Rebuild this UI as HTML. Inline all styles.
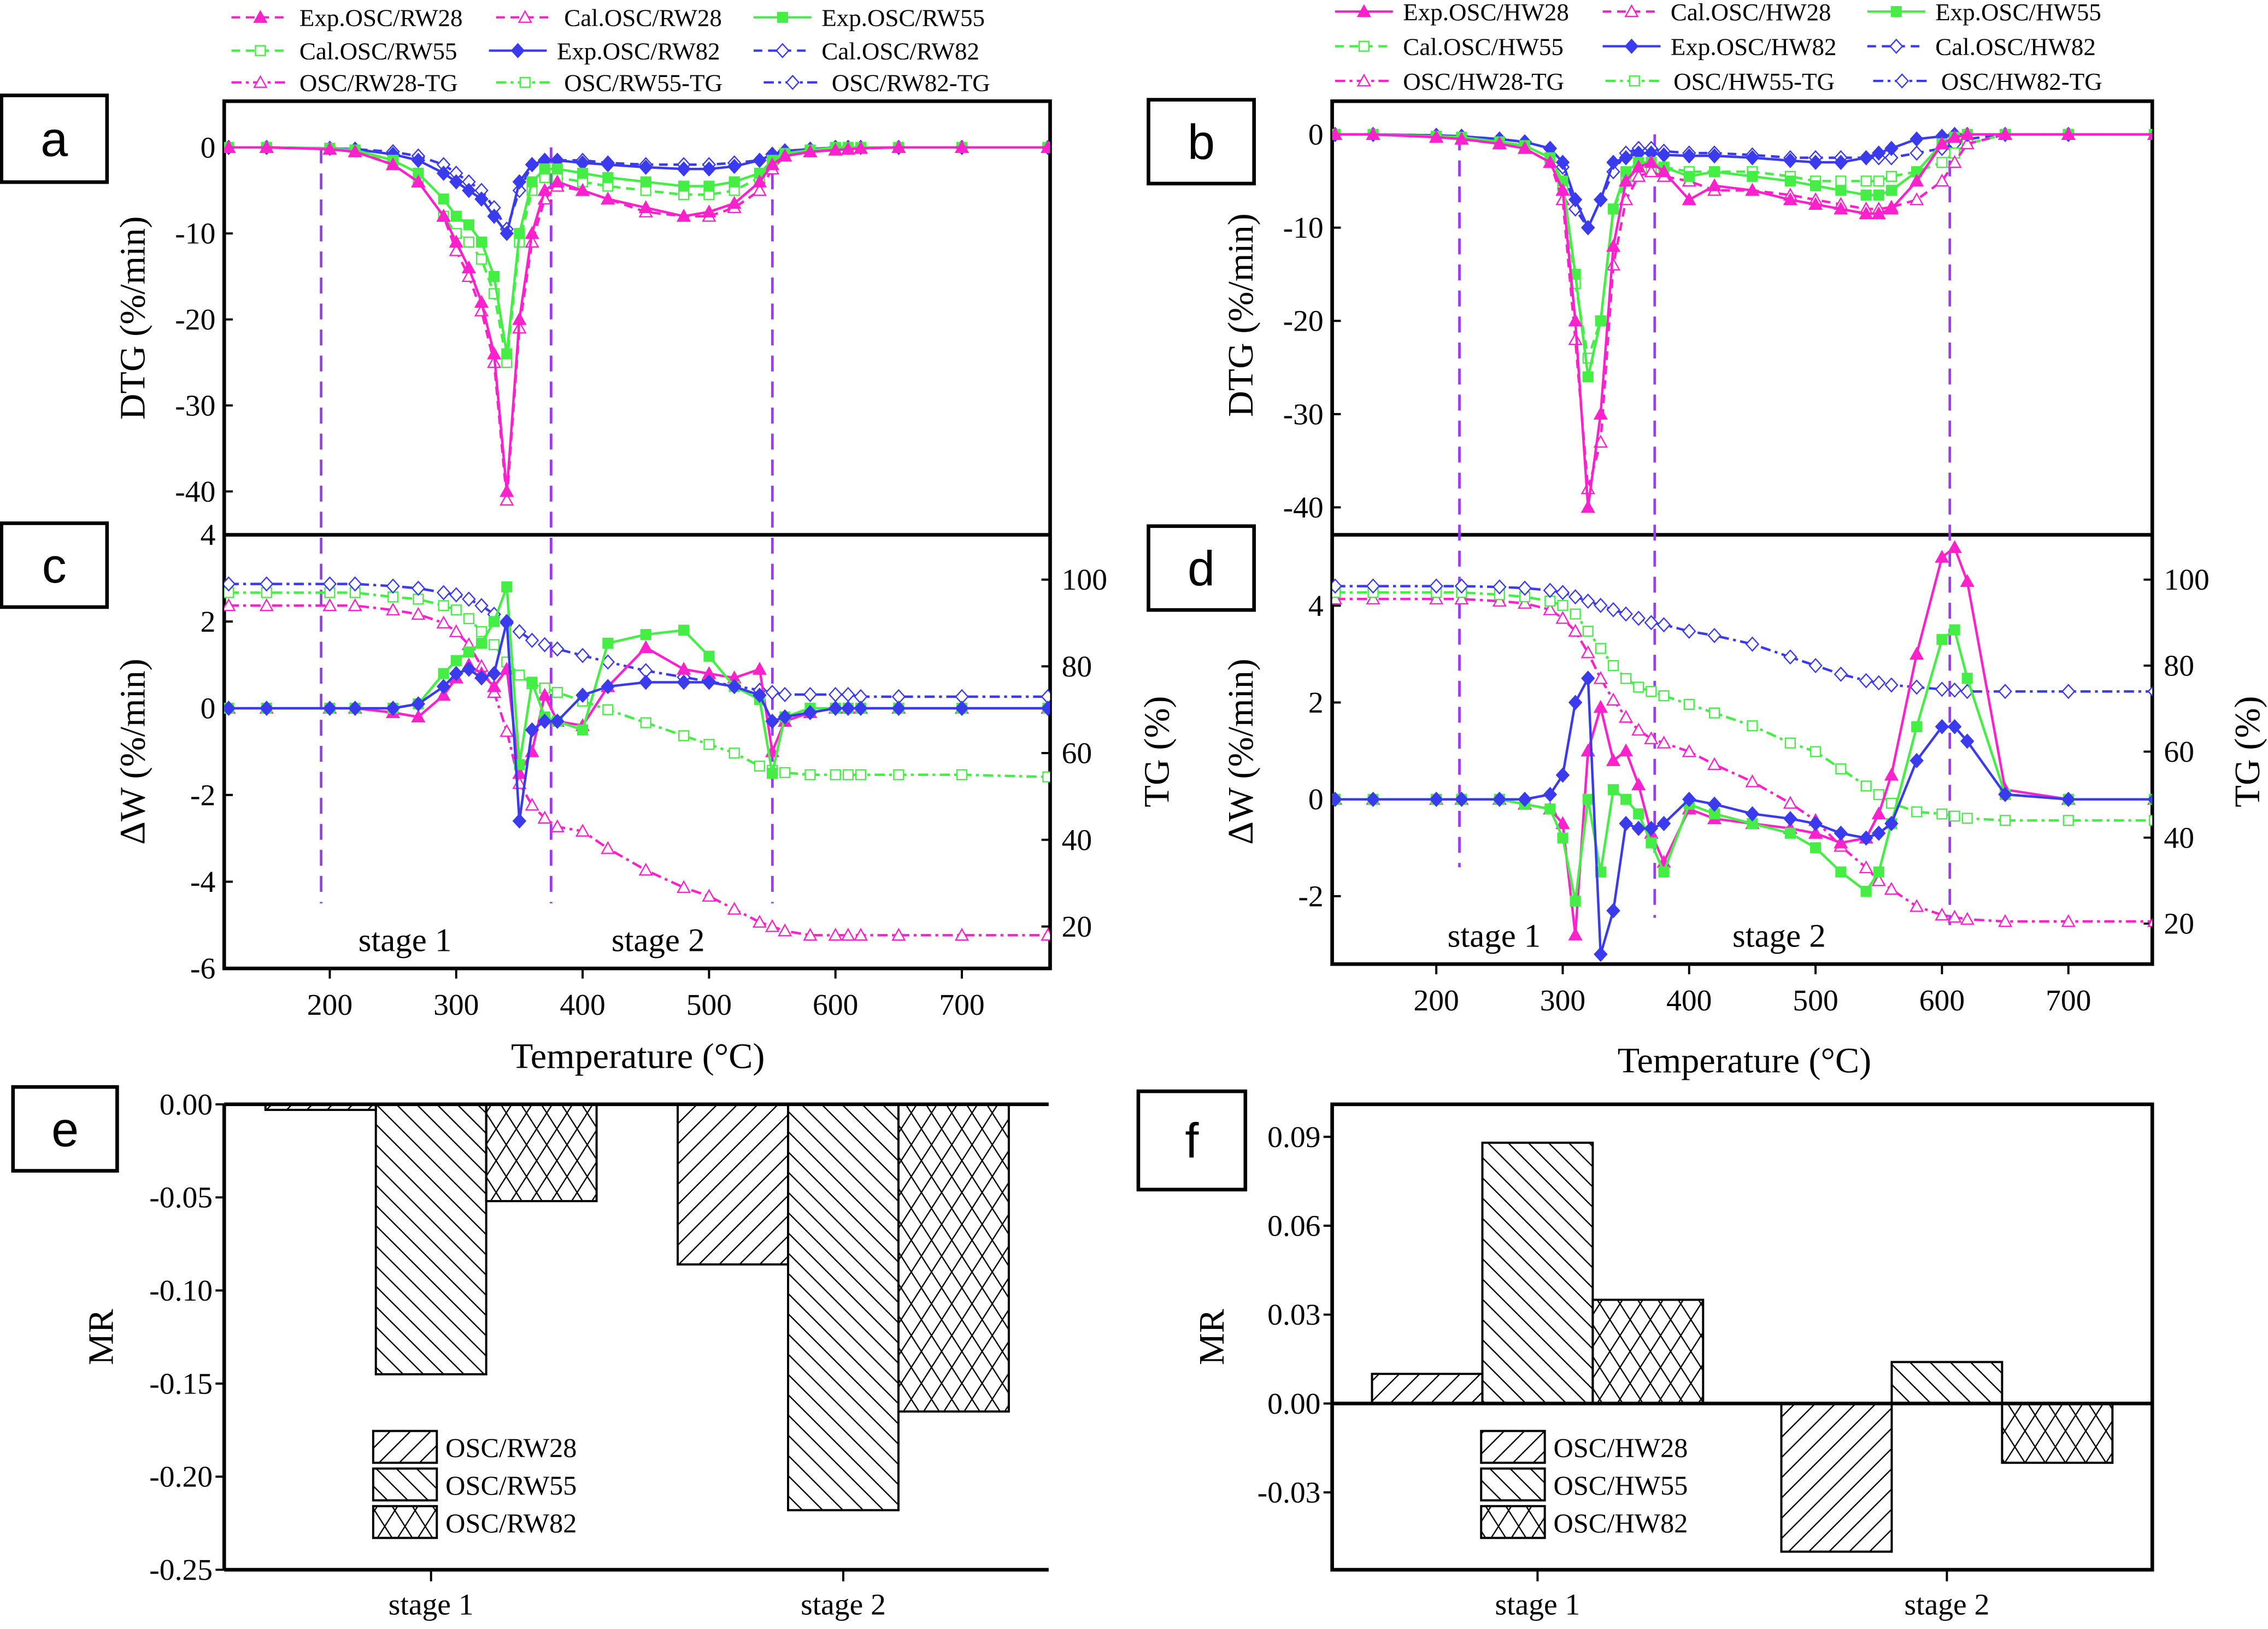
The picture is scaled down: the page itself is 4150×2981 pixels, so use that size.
<!DOCTYPE html>
<html><head><meta charset="utf-8"><style>
html,body{margin:0;padding:0;background:#fff;}
svg{display:block;font-family:"Liberation Serif",serif;}
</style></head><body>
<svg id="fig" xmlns="http://www.w3.org/2000/svg" width="4150" height="2981" viewBox="0 0 1568 1127" preserveAspectRatio="none">
<defs>
<pattern id="hFwd" patternUnits="userSpaceOnUse" width="14" height="14"><path d="M-2,16 L16,-2 M-2,2 L2,-2 M12,16 L16,12" stroke="#000" stroke-width="0.9"/></pattern>
<pattern id="hBack" patternUnits="userSpaceOnUse" width="14" height="14"><path d="M-2,-2 L16,16 M-2,12 L2,16 M12,-2 L16,2" stroke="#000" stroke-width="0.9"/></pattern>
<pattern id="hCross" patternUnits="userSpaceOnUse" width="14" height="22"><path d="M0,0 L14,22 M14,0 L0,22" stroke="#000" stroke-width="0.9"/></pattern>
<clipPath id="clipAC"><rect x="155" y="70" width="571" height="600"/></clipPath>
<clipPath id="clipBD"><rect x="921" y="70" width="567" height="597"/></clipPath>
</defs>
</svg>
<script>
// ---------- data ----------
const temps = [120,150,200,220,250,270,290,300,310,320,330,340,350,360,370,380,400,420,450,480,500,520,540,550,560,580,600,610,620,650,700,768];
// panel a: DTG (%/min)
const dtgExpRW28 = [0,0,-0.2,-0.5,-2,-4,-8,-11,-14,-18,-24,-40,-20,-10,-5,-4,-5,-6,-7,-8,-7.5,-6.5,-4,-2,-1,-0.5,-0.3,-0.2,-0.1,0,0,0];
const dtgCalRW28 = [0,0,-0.2,-0.5,-2,-4,-8,-12,-15,-19,-25,-41,-21,-11,-6,-4.5,-5,-6,-7.5,-8,-8,-7,-5,-2.5,-1,-0.5,-0.3,-0.2,-0.1,0,0,0];
const dtgExpRW55 = [0,0,-0.1,-0.3,-1.5,-3,-6,-8,-9,-11,-15,-24,-10,-4,-2.5,-2.5,-3,-3.5,-4,-4.5,-4.5,-4,-3,-1.5,-0.7,-0.3,0,0,0,0,0,0];
const dtgCalRW55 = [0,0,-0.1,-0.3,-2,-4,-8,-10,-11,-13,-17,-25,-11,-5,-3.5,-3.5,-4,-4.5,-5,-5.5,-5.5,-5,-3.5,-2,-0.8,-0.3,0,0,0,0,0,0];
const dtgExpRW82 = [0,0,-0.1,-0.2,-0.8,-1.5,-3,-4,-5,-6,-8,-10,-4,-2,-1.5,-1.5,-1.8,-2,-2.3,-2.5,-2.5,-2.2,-1.5,-0.8,-0.4,-0.2,0,0,0,0,0,0];
const dtgCalRW82 = [0,0,-0.1,-0.2,-0.5,-1,-2,-3,-4,-5,-7,-9.5,-5,-2,-1.5,-1.5,-1.5,-1.8,-2,-2,-2,-1.8,-1.5,-0.8,-0.4,-0.2,0,0,0,0,0,0];
// panel c: dW and TG
const dwRW28 = [0,0,0,0,-0.1,-0.2,0.3,0.7,1.0,0.8,0.5,0.9,-1.5,-1.0,0.3,-0.3,-0.4,0.5,1.4,0.9,0.8,0.7,0.9,-1.0,-0.3,-0.1,0,0,0,0,0,0];
const dwRW55 = [0,0,0,0,0,0.1,0.8,1.1,1.3,1.5,2.0,2.8,-1.3,0.6,-0.2,-0.3,-0.5,1.5,1.7,1.8,1.2,0.5,0.2,-1.5,-0.2,0,0,0,0,0,0,0];
const dwRW82 = [0,0,0,0,0,0.1,0.5,0.8,0.9,0.7,0.8,2.0,-2.6,-0.5,-0.3,-0.3,0.3,0.5,0.6,0.6,0.6,0.5,0.3,-0.3,-0.2,-0.1,0,0,0,0,0,0];
const tgRW28 = [94,94,94,94,93,92,90,88,85,80,74,65,53,48,45,43,42,38,33,29,27,24,21,20,19,18,18,18,18,18,18,18];
const tgRW55 = [97,97,97,97,96,95.5,94,93,91,88,85,81,78,76,75,74,72,70,67,64,62,60,57,56,55.5,55,55,55,55,55,55,54.5];
const tgRW82 = [99,99,99,99,98.5,98,97,96.5,95.5,94,92,90,88,86,85,84,82.5,81,79,77.5,76.5,75.5,74.5,74,73.5,73.5,73.5,73.5,73,73,73,73];
// panel b: DTG
const dtgExpHW28 = [0,0,-0.3,-0.5,-1,-1.5,-3,-6,-20,-40,-30,-12,-5,-3.5,-3,-4,-7,-5.5,-6,-7,-7.5,-8,-8.5,-8.5,-8,-5,-1,-0.3,0,0,0,0];
const dtgCalHW28 = [0,0,-0.3,-0.5,-1,-1.5,-3,-7,-22,-38,-33,-14,-7,-4.5,-4,-4.5,-5,-6,-6,-6.5,-7,-7.5,-8,-8,-7.8,-7,-5,-3,-1,0,0,0];
const dtgExpHW55 = [0,0,-0.2,-0.3,-0.8,-1.2,-2.5,-5,-15,-26,-20,-8,-4,-3,-3,-3.5,-4.5,-4,-4.5,-5,-5.5,-6,-6.5,-6.5,-6,-4,-1,-0.3,0,0,0,0];
const dtgCalHW55 = [0,0,-0.2,-0.3,-0.8,-1.2,-2.5,-5.5,-16,-24,-20,-8,-5,-3.5,-3.5,-3.5,-4,-4,-4,-4.5,-5,-5,-5,-5,-4.5,-4,-3,-2,-1,0,0,0];
const dtgExpHW82 = [0,0,-0.1,-0.2,-0.5,-0.8,-1.5,-3,-7,-10,-7,-3,-2.5,-2,-2,-2.2,-2.3,-2.3,-2.5,-2.8,-3,-3,-2.5,-2,-1.5,-0.5,-0.2,0,0,0,0,0];
const dtgCalHW82 = [0,0,-0.1,-0.2,-0.5,-0.8,-1.5,-3.5,-8,-10,-7,-4,-2,-1.5,-1.5,-1.8,-2,-2,-2.2,-2.5,-2.5,-2.5,-2.5,-2.5,-2.5,-2,-1.5,-1,-0.5,0,0,0];
// panel d: dW and TG
const dwHW28 = [0,0,0,0,0,-0.1,-0.2,-0.5,-2.8,1.0,1.9,0.8,1.0,0.3,-0.7,-1.3,-0.2,-0.4,-0.5,-0.6,-0.7,-0.9,-0.8,-0.3,0.5,3.0,5.0,5.2,4.5,0.2,0,0];
const dwHW55 = [0,0,0,0,0,-0.1,-0.2,-0.8,-2.1,0,-1.5,0.2,0,-0.3,-0.9,-1.5,-0.1,-0.3,-0.5,-0.7,-1.0,-1.5,-1.9,-1.5,-0.5,1.5,3.3,3.5,2.5,0.1,0,0];
const dwHW82 = [0,0,0,0,0,0,0.1,0.5,2.0,2.5,-3.2,-2.3,-0.5,-0.6,-0.6,-0.5,0,-0.1,-0.3,-0.4,-0.5,-0.7,-0.8,-0.7,-0.5,0.8,1.5,1.5,1.2,0.1,0,0];
const tgHW28 = [95.5,95.5,95.5,95.5,95,94.5,93,91,88,83,77,72,68,65,63,62,60,57,53,48,44,38,33,30,28,24,22,21.5,21,20.5,20.5,20.5];
const tgHW55 = [97,97,97,97,96.5,96,95,94,92,88,84,80,77,75,74,73,71,69,66,62,60,56,52,50,48,46,45.5,45,44.5,44,44,44];
const tgHW82 = [98.5,98.5,98.5,98.5,98.3,98,97.5,97,96,95,94,93,92,91,90,89.5,88,87,85,82,80,78,76.5,76,75.5,75,74.5,74.3,74,74,74,74];
// bar panels
const stages = ["stage 1","stage 2"];
const mrRW28 = [-0.003,-0.086];
const mrRW55 = [-0.145,-0.218];
const mrRW82 = [-0.052,-0.165];
const mrHW28 = [0.010,-0.050];
const mrHW55 = [0.088,0.014];
const mrHW82 = [0.035,-0.020];
const xTicks = [200,300,400,500,600,700];

// ---------- helpers ----------
const NS="http://www.w3.org/2000/svg";
const svg=document.getElementById('fig');
function mk(tag,attrs,parent){const e=document.createElementNS(NS,tag);for(const k in attrs)e.setAttribute(k,attrs[k]);(parent||svg).appendChild(e);return e;}
function txt(s,x,y,size,opts,parent){const o=Object.assign({x:x,y:y,'font-size':size,fill:'#000'},opts||{});const e=mk('text',o,parent);e.textContent=s;return e;}
const MAG="#ff22cc",GRN="#44ee44",BLU="#3a3aee",PUR="#9a3cf0";
const xA=t=>228+(t-200)*0.874, xB=t=>993+(t-200)*0.874;
const yA=v=>102-v*5.95, yC=v=>490-v*30, yCt=p=>401+(100-p)*3;
const yB=v=>93-v*6.45, yD=v=>553-v*33.5, yDt=p=>401+(100-p)*2.975;

function marker(g,type,x,y,color,filled){
  const f=filled?color:'#fff', s=4.2; let e;
  if(type==='tri') e=mk('path',{d:`M${x},${y-s} L${x+s},${y+s*0.8} L${x-s},${y+s*0.8}Z`,fill:f,stroke:color,'stroke-width':0.9},g);
  else if(type==='sq') e=mk('rect',{x:x-s*0.8,y:y-s*0.8,width:s*1.6,height:s*1.6,fill:f,stroke:color,'stroke-width':0.9},g);
  else e=mk('path',{d:`M${x},${y-s*1.1} L${x+s},${y} L${x},${y+s*1.1} L${x-s},${y}Z`,fill:f,stroke:color,'stroke-width':0.9},g);
  
  
}
function series(name,vals,xf,yf,color,dash,mtype,filled,clip){
  const g=mk('g',{'clip-path':`url(#${clip})`});
  
  
  let d='';
  vals.forEach((v,i)=>{d+=(i?'L':'M')+xf(temps[i]).toFixed(1)+','+yf(v).toFixed(1);});
  const p=mk('path',{d:d,fill:'none',stroke:color,'stroke-width':1.7,'stroke-dasharray':dash,'stroke-linejoin':'round'},g);
  
  
  vals.forEach((v,i)=>marker(g,mtype,xf(temps[i]),yf(v),color,filled));
}
const DASH='6,4', DOT='7,3,2,3';

// ---------- chart frames ----------
function frame(name,x,y,w,h){const r=mk('rect',{x:x,y:y,width:w,height:h,fill:'none',stroke:'#000','stroke-width':2.5});}
frame('panel-ac-frame',155,70,571,600);
mk('line',{x1:155,y1:370,x2:726,y2:370,stroke:'#000','stroke-width':2.5});
frame('panel-bd-frame',921,70,567,597);
mk('line',{x1:921,y1:370,x2:1488,y2:370,stroke:'#000','stroke-width':2.5});

function yTicks(vals,yf,xAxis,side,fmt,nameBase){
  vals.forEach(v=>{const y=yf(v);
    mk('line',{x1:xAxis,y1:y,x2:xAxis+(side<0?6:-6),y2:y,stroke:'#000','stroke-width':1.5});
    const t=txt(fmt(v),side<0?xAxis-6:xAxis+8,y+7,21,{'text-anchor':side<0?'end':'start'});
    
    
  });
}
const fmt0=v=>String(v);
yTicks([0,-10,-20,-30,-40],yA,155,-1,fmt0,'a-y');
yTicks([4,2,0,-2,-4,-6],yC,155,-1,fmt0,'c-y');
yTicks([100,80,60,40,20],yCt,726,1,fmt0,'c-tg');
yTicks([0,-10,-20,-30,-40],yB,921,-1,fmt0,'b-y');
yTicks([4,2,0,-2],yD,921,-1,fmt0,'d-y');
yTicks([100,80,60,40,20],yDt,1488,1,fmt0,'d-tg');
xTicks.forEach(t=>{
  [[xA,670,'c'],[xB,667,'d']].forEach(([xf,yb,p])=>{const x=xf(t);
    mk('line',{x1:x,y1:yb,x2:x,y2:yb+7,stroke:'#000','stroke-width':1.5});
    const e=txt(String(t),x,yb+32,21,{'text-anchor':'middle'});
    
    
  });
});
function rlabel(s,x,y,name){const e=txt(s,x,y,25,{'text-anchor':'middle',transform:`rotate(-90 ${x} ${y})`});}
rlabel('DTG (%/min)',100,220,'a-y-axis-title');
rlabel('ΔW (%/min)',100,520,'c-y-axis-title');
rlabel('TG (%)',808,520,'c-right-axis-title');
rlabel('DTG (%/min)',866,218,'b-y-axis-title');
rlabel('ΔW (%/min)',866,520,'d-y-axis-title');
rlabel('TG (%)',1562,520,'d-right-axis-title');
let e;
e=txt('Temperature (°C)',441,739,25,{'text-anchor':'middle'});
e=txt('Temperature (°C)',1206,742,25,{'text-anchor':'middle'});
[['stage 1',280,658,'c'],['stage 2',455,658,'c'],['stage 1',1033,655,'d'],['stage 2',1230,655,'d']].forEach(([s,x,y,p])=>{
  e=txt(s,x,y,23,{'text-anchor':'middle'});});

// stage divider lines
[[222,102,625],[381,102,625],[534,102,625],[1009,93,600],[1144,93,635],[1348,93,640]].forEach(([x,y1,y2])=>{
  e=mk('line',{x1:x,y1:y1,x2:x,y2:y2,stroke:PUR,'stroke-width':1.8,'stroke-dasharray':'11,7'});
  });

// ---------- series ----------
series('c-tg-rw28',tgRW28,xA,yCt,MAG,DOT,'tri',false,'clipAC');
series('c-tg-rw55',tgRW55,xA,yCt,GRN,DOT,'sq',false,'clipAC');
series('c-tg-rw82',tgRW82,xA,yCt,BLU,DOT,'dia',false,'clipAC');
series('a-cal-rw82',dtgCalRW82,xA,yA,BLU,DASH,'dia',false,'clipAC');
series('a-cal-rw55',dtgCalRW55,xA,yA,GRN,DASH,'sq',false,'clipAC');
series('a-cal-rw28',dtgCalRW28,xA,yA,MAG,DASH,'tri',false,'clipAC');
series('a-exp-rw82',dtgExpRW82,xA,yA,BLU,'','dia',true,'clipAC');
series('a-exp-rw55',dtgExpRW55,xA,yA,GRN,'','sq',true,'clipAC');
series('a-exp-rw28',dtgExpRW28,xA,yA,MAG,'','tri',true,'clipAC');
series('c-dw-rw28',dwRW28,xA,yC,MAG,'','tri',true,'clipAC');
series('c-dw-rw55',dwRW55,xA,yC,GRN,'','sq',true,'clipAC');
series('c-dw-rw82',dwRW82,xA,yC,BLU,'','dia',true,'clipAC');

series('d-tg-hw28',tgHW28,xB,yDt,MAG,DOT,'tri',false,'clipBD');
series('d-tg-hw55',tgHW55,xB,yDt,GRN,DOT,'sq',false,'clipBD');
series('d-tg-hw82',tgHW82,xB,yDt,BLU,DOT,'dia',false,'clipBD');
series('b-cal-hw82',dtgCalHW82,xB,yB,BLU,DASH,'dia',false,'clipBD');
series('b-cal-hw55',dtgCalHW55,xB,yB,GRN,DASH,'sq',false,'clipBD');
series('b-cal-hw28',dtgCalHW28,xB,yB,MAG,DASH,'tri',false,'clipBD');
series('b-exp-hw82',dtgExpHW82,xB,yB,BLU,'','dia',true,'clipBD');
series('b-exp-hw55',dtgExpHW55,xB,yB,GRN,'','sq',true,'clipBD');
series('b-exp-hw28',dtgExpHW28,xB,yB,MAG,'','tri',true,'clipBD');
series('d-dw-hw28',dwHW28,xB,yD,MAG,'','tri',true,'clipBD');
series('d-dw-hw55',dwHW55,xB,yD,GRN,'','sq',true,'clipBD');
series('d-dw-hw82',dwHW82,xB,yD,BLU,'','dia',true,'clipBD');

// ---------- top legends ----------
function legendEntry(label,tx,y,color,dash,mtype,filled){
  const g=mk('g',{});
  
  
  mk('line',{x1:tx-47,y1:y,x2:tx-7,y2:y,stroke:color,'stroke-width':1.6,'stroke-dasharray':dash},g);
  marker(g,mtype,tx-27,y,color,filled);
  txt(label,tx,y+6,17,{},g);
}
[['Exp.OSC/RW28',207,12,MAG,DASH,'tri',true],['Cal.OSC/RW28',390,12,MAG,DASH,'tri',false],['Exp.OSC/RW55',568,12,GRN,'','sq',true],
 ['Cal.OSC/RW55',207,35,GRN,DASH,'sq',false],['Exp.OSC/RW82',385,35,BLU,'','dia',true],['Cal.OSC/RW82',568,35,BLU,DASH,'dia',false],
 ['OSC/RW28-TG',207,57,MAG,DOT,'tri',false],['OSC/RW55-TG',390,57,GRN,DOT,'sq',false],['OSC/RW82-TG',575,57,BLU,DOT,'dia',false],
 ['Exp.OSC/HW28',970,8,MAG,'','tri',true],['Cal.OSC/HW28',1155,8,MAG,DASH,'tri',false],['Exp.OSC/HW55',1338,8,GRN,'','sq',true],
 ['Cal.OSC/HW55',970,32,GRN,DASH,'sq',false],['Exp.OSC/HW82',1155,32,BLU,'','dia',true],['Cal.OSC/HW82',1338,32,BLU,DASH,'dia',false],
 ['OSC/HW28-TG',970,56,MAG,DOT,'tri',false],['OSC/HW55-TG',1157,56,GRN,DOT,'sq',false],['OSC/HW82-TG',1342,56,BLU,DOT,'dia',false]
].forEach(a=>legendEntry(...a));

// ---------- panel letter boxes ----------
[['a',0,66,73,60],['b',793,69,73,58],['c',0,362,73,58],['d',793,364,73,58],['e',8,752,72,58],['f',786,755,74,68]].forEach(([l,x,y,w,h])=>{
  const g=mk('g',{});
  
  
  mk('rect',{x:x+1,y:y,width:w,height:h,fill:'#fff',stroke:'#000','stroke-width':2.5},g);
  txt(l,x+1+w/2,y+h/2+12,34,{'text-anchor':'middle','font-family':'Liberation Sans, sans-serif'},g);
});

// ---------- bar charts ----------
const yE=v=>764+(-v)*1288, yF=v=>971-v*2050;
function barPanel(p,x0,x1,top,bot,yf,ticks,fmt,data,groupX,labels,fullBox){
  if(fullBox) frame(p+'-frame',x0,top,x1-x0,bot-top);
  else { mk('line',{x1:x0,y1:top,x2:x0,y2:bot,stroke:'#000','stroke-width':2.5}); mk('line',{x1:x0,y1:bot,x2:x1,y2:bot,stroke:'#000','stroke-width':2.5}); }
  ticks.forEach(v=>{const y=yf(v);mk('line',{x1:x0-6,y1:y,x2:x0,y2:y,stroke:'#000','stroke-width':1.5});
    const t=txt(fmt(v),x0-8,y+7,21,{'text-anchor':'end'});});
  const fills=['url(#hFwd)','url(#hBack)','url(#hCross)'];
  stages.forEach((s,si)=>{
    data.forEach((arr,k)=>{
      const bx=groupX[si]+(k-1.5)*76.3, y0=yf(0), y1=yf(arr[si]);
      const r=mk('rect',{x:bx,y:Math.min(y0,y1),width:76.3,height:Math.abs(y1-y0),fill:fills[k],stroke:'#000','stroke-width':1.5});
      
      
    });
    const x=groupX[si];
    mk('line',{x1:x,y1:bot,x2:x,y2:bot+8,stroke:'#000','stroke-width':1.5});
    const t=txt(s,x,bot+31,21,{'text-anchor':'middle'});
  });
  mk('line',{x1:x0,y1:yf(0),x2:x1,y2:yf(0),stroke:'#000','stroke-width':2.5});
}
barPanel('e',155,725,764,1086,yE,[0,-0.05,-0.1,-0.15,-0.2,-0.25],v=>v.toFixed(2),[mrRW28,mrRW55,mrRW82],[298,583],['OSC/RW28','OSC/RW55','OSC/RW82'],false);
barPanel('f',921,1488,764,1086,yF,[0.09,0.06,0.03,0,-0.03],v=>v.toFixed(2),[mrHW28,mrHW55,mrHW82],[1063,1346],['OSC/HW28','OSC/HW55','OSC/HW82'],true);
rlabel('MR',78,925,'e-y-axis-title');
rlabel('MR',846,925,'f-y-axis-title');
function barLegend(x,y0,labels,p){
  const fills=['url(#hFwd)','url(#hBack)','url(#hCross)'];
  labels.forEach((l,k)=>{const g=mk('g',{});
    
    
    const y=y0+k*26;
    mk('rect',{x:x,y:y,width:44,height:22,fill:fills[k],stroke:'#000','stroke-width':1.5},g);
    txt(l,x+50,y+18,19,{},g);});
}
barLegend(258,990,['OSC/RW28','OSC/RW55','OSC/RW82'],'e');
barLegend(1024,990,['OSC/HW28','OSC/HW55','OSC/HW82'],'f');
</script>
</body></html>
